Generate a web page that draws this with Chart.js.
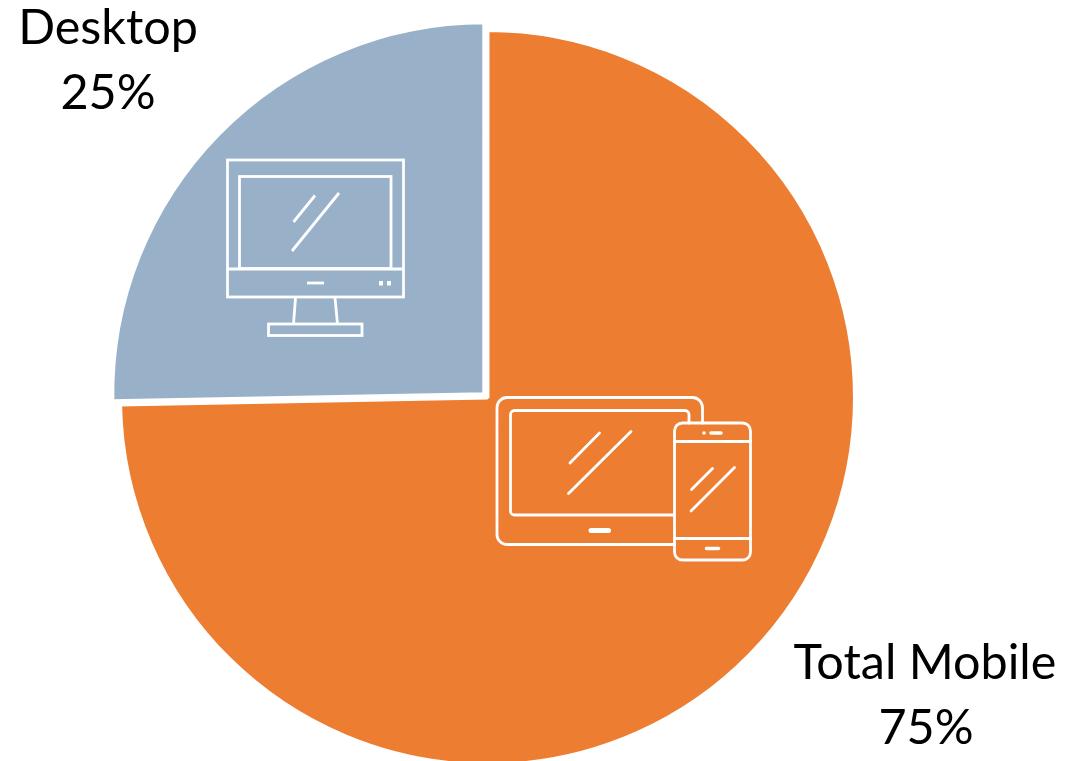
<!DOCTYPE html>
<html>
<head>
<meta charset="utf-8">
<title>Desktop vs Total Mobile</title>
<script src="https://cdn.jsdelivr.net/npm/chart.js@4"></script>
<style>
  html, body { margin: 0; padding: 0; background: #fff; overflow: hidden; }
  canvas { display: block; }
</style>
</head>
<body>
<canvas id="pie" width="1071" height="761"></canvas>
<script>
// Chart data
const categories = ['Total Mobile', 'Desktop'];
const shares = [74.7, 25.3];
const shareLabels = ['75%', '25%'];
const sliceColors = ['#ED7D31', '#98B1C8'];

// Helpers for the line icons
function line(ctx, x1, y1, x2, y2) {
    ctx.beginPath();
    ctx.moveTo(x1, y1);
    ctx.lineTo(x2, y2);
    ctx.stroke();
}

function drawDesktopIcon(ctx) {
    ctx.strokeRect(227.5, 160, 176, 137);
    ctx.strokeRect(239.5, 176.5, 151.5, 92);
    line(ctx, 227.5, 269, 403.5, 269);
    line(ctx, 315, 195.5, 293.5, 222);
    line(ctx, 339, 193, 292, 251);
    line(ctx, 307, 283, 324, 283);
    ctx.fillRect(379, 281, 4, 4.5);
    ctx.fillRect(387, 281, 4, 4.5);
    line(ctx, 295.5, 298, 293.5, 324);
    line(ctx, 335, 298, 337.5, 324);
    ctx.strokeRect(268.5, 324, 93.5, 11.5);
}

function drawMobileIcon(ctx) {
    // tablet body, runs behind the phone
    ctx.beginPath();
    ctx.moveTo(702.5, 423);
    ctx.arcTo(702.5, 397.5, 497, 397.5, 10);
    ctx.arcTo(497, 397.5, 497, 544.5, 10);
    ctx.arcTo(497, 544.5, 674, 544.5, 10);
    ctx.lineTo(674, 544.5);
    ctx.stroke();

    // tablet screen
    ctx.beginPath();
    ctx.moveTo(689, 423);
    ctx.arcTo(689, 410.5, 510.5, 410.5, 4);
    ctx.arcTo(510.5, 410.5, 510.5, 515, 4);
    ctx.arcTo(510.5, 515, 674, 515, 4);
    ctx.lineTo(674, 515);
    ctx.stroke();

    line(ctx, 599.5, 433, 570, 463);
    line(ctx, 631, 431.5, 568.5, 493.5);

    ctx.lineWidth = 5;
    line(ctx, 591, 530.5, 608.5, 530.5);
    ctx.lineWidth = 2.8;

    // phone
    ctx.beginPath();
    ctx.roundRect(674.5, 423, 76, 137, 8);
    ctx.stroke();
    line(ctx, 674.5, 441.5, 750.5, 441.5);
    line(ctx, 674.5, 538.5, 750.5, 538.5);
    line(ctx, 712.5, 468.5, 691.5, 489.5);
    line(ctx, 734.5, 467.5, 691, 511);

    ctx.beginPath();
    ctx.arc(704, 433, 1.8, 0, Math.PI * 2);
    ctx.fill();
    ctx.lineWidth = 3.5;
    line(ctx, 711, 433, 721, 433);
    line(ctx, 706.5, 548.5, 718.5, 548.5);
}

// Desktop slice is drawn a little larger than the mobile one
const enlargeDesktop = {
    id: 'enlargeDesktop',
    afterDatasetsUpdate(chart) {
        const arc = chart.getDatasetMeta(0).data[1];
        arc.outerRadius += 4.5;
    }
};

// Icons and the category labels on top of the pie
const annotations = {
    id: 'annotations',
    afterDraw(chart) {
        const ctx = chart.ctx;
        ctx.save();
        ctx.strokeStyle = '#fff';
        ctx.fillStyle = '#fff';
        ctx.lineWidth = 2.8;
        ctx.lineCap = 'butt';
        drawDesktopIcon(ctx);
        ctx.lineCap = 'round';
        drawMobileIcon(ctx);

        ctx.fillStyle = '#000';
        ctx.font = '48.5px Lato, "Open Sans", sans-serif';
        ctx.textAlign = 'center';
        ctx.textBaseline = 'alphabetic';
        ctx.fillText(categories[1], 108, 44);
        ctx.fillText(shareLabels[1], 108, 109);
        ctx.fillText(categories[0], 925, 679);
        ctx.fillText(shareLabels[0], 926, 744);
        ctx.restore();
    }
};

const ctx = document.getElementById('pie').getContext('2d');
new Chart(ctx, {
    type: 'pie',
    data: {
        labels: categories,
        datasets: [{
            data: shares,
            backgroundColor: sliceColors,
            borderColor: '#fff',
            borderWidth: 4,
            offset: [0, 18],
            clip: false
        }]
    },
    options: {
        responsive: false,
        devicePixelRatio: 1,
        animation: false,
        radius: 367.5,
        layout: {
            padding: { left: 0, right: 96, top: 34, bottom: 0 }
        },
        plugins: {
            legend: { display: false },
            tooltip: { enabled: false },
            title: { display: false }
        }
    },
    plugins: [enlargeDesktop, annotations]
});
</script>
</body>
</html>
